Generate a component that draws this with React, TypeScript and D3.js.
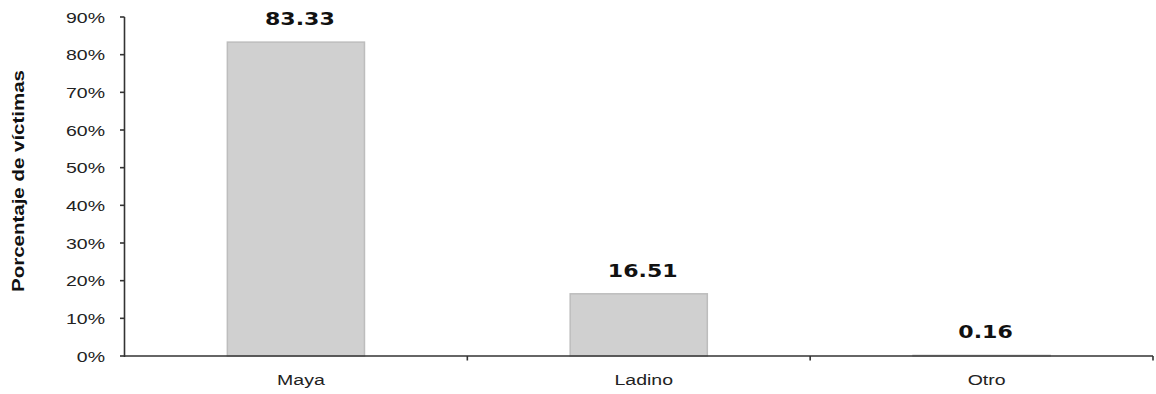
import React from "react";
import * as d3 from "d3";

const categories = ["Maya", "Ladino", "Otro"];
const values = [83.33, 16.51, 0.16];
const valueLabels = ["83.33", "16.51", "0.16"];
const yTicks = [0, 10, 20, 30, 40, 50, 60, 70, 80, 90];
const yTitle = "Porcentaje de víctimas";

const W = 1156;
const H = 394;
const left = 124.5;
const right = 1153;
const top = 17;
const bottom = 356;
const SX = 1.3;

export default function App() {
  const x = d3.scaleBand<string>().domain(categories).range([left, right]).paddingInner(0).paddingOuter(0);
  const y = d3.scaleLinear().domain([0, 90]).range([bottom, top]);
  const bw = x.bandwidth() * 0.4;
  const boundaries = categories.map((c) => (x(c) as number) + x.bandwidth());

  return (
    <svg width={W} height={H} style={{ position: "absolute", left: 0, top: 0, background: "#fff" }}>
      {/* bars */}
      {categories.map((c, i) => {
        const cx = (x(c) as number) + x.bandwidth() / 2;
        return (
          <rect
            key={c}
            x={cx - bw / 2}
            y={y(values[i])}
            width={bw}
            height={bottom - y(values[i])}
            fill="#d0d0d0"
            stroke="#bdbdbd"
            strokeWidth={1.5}
          />
        );
      })}
      {/* value labels */}
      {categories.map((c, i) => {
        const cx = (x(c) as number) + x.bandwidth() / 2 + 4;
        return (
          <text
            key={c}
            transform={`translate(${cx},${y(values[i]) - 17}) scale(${SX},1)`}
            textAnchor="middle"
            fontFamily="DejaVu Sans"
            fontWeight="bold"
            fontSize={17}
            fill="#111"
          >
            {valueLabels[i]}
          </text>
        );
      })}
      {/* y axis */}
      <line x1={left} x2={left} y1={top} y2={bottom + 1} stroke="#333" strokeWidth={1.6} />
      {yTicks.map((t) => (
        <g key={t}>
          <line x1={left - 4.5} x2={left} y1={y(t)} y2={y(t)} stroke="#333" strokeWidth={1.6} />
          <text
            transform={`translate(${105},${y(t) + 5.5}) scale(${SX},1)`}
            textAnchor="end"
            fontFamily="Liberation Sans, Arial, sans-serif"
            fontSize={15}
            fill="#222"
          >
            {t + "%"}
          </text>
        </g>
      ))}
      {/* x axis */}
      <line x1={left} x2={right} y1={bottom} y2={bottom} stroke="#333" strokeWidth={1.6} />
      {boundaries.map((bx, i) => (
        <line key={i} x1={bx} x2={bx} y1={bottom} y2={bottom + 4.5} stroke="#333" strokeWidth={1.6} />
      ))}
      {categories.map((c) => {
        const cx = (x(c) as number) + x.bandwidth() / 2 + 5;
        return (
          <text
            key={c}
            transform={`translate(${cx},${385}) scale(${SX},1)`}
            textAnchor="middle"
            fontFamily="Liberation Sans, Arial, sans-serif"
            fontSize={15}
            fill="#222"
          >
            {c}
          </text>
        );
      })}
      {/* y title */}
      <text
        transform={`translate(24,181) rotate(-90)`}
        textAnchor="middle"
        fontFamily="Liberation Sans, Arial, sans-serif"
        fontWeight="bold"
        fontSize={16}
        textLength={222}
        lengthAdjust="spacingAndGlyphs"
        fill="#111"
      >
        {yTitle}
      </text>
    </svg>
  );
}
